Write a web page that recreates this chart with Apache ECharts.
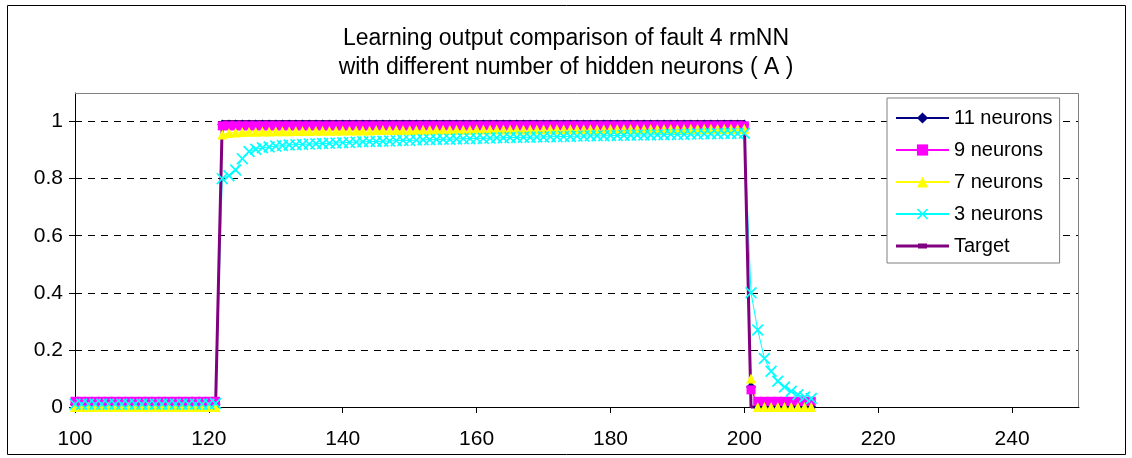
<!DOCTYPE html>
<html><head><meta charset="utf-8">
<script src="https://cdn.jsdelivr.net/npm/echarts@6/dist/echarts.min.js"></script>
<style>html,body{margin:0;padding:0;background:#fff}#c{width:1132px;height:458px}</style>
</head><body><div id="c"></div><script>
const titleText = 'Learning output comparison of fault 4 rmNN\nwith different number of hidden neurons ( A )';
const seriesNames = ['11 neurons', '9 neurons', '7 neurons', '3 neurons', 'Target'];

const xValues = [
 100,101,102,103,104,105,106,107,108,109,
 110,111,112,113,114,115,116,117,118,119,
 120,121,122,123,124,125,126,127,128,129,
 130,131,132,133,134,135,136,137,138,139,
 140,141,142,143,144,145,146,147,148,149,
 150,151,152,153,154,155,156,157,158,159,
 160,161,162,163,164,165,166,167,168,169,
 170,171,172,173,174,175,176,177,178,179,
 180,181,182,183,184,185,186,187,188,189,
 190,191,192,193,194,195,196,197,198,199,
 200,201,202,203,204,205,206,207,208,209,
 210
];

const neurons11 = [
 0.01,0.01,0.01,0.01,0.01,0.01,0.01,0.01,0.01,0.01,
 0.01,0.01,0.01,0.01,0.01,0.01,0.01,0.01,0.01,0.01,
 0.01,0.01,0.99,0.99,0.99,0.99,0.99,0.99,0.99,0.99,
 0.99,0.99,0.99,0.99,0.99,0.99,0.99,0.99,0.99,0.99,
 0.99,0.99,0.99,0.99,0.99,0.99,0.99,0.99,0.99,0.99,
 0.99,0.99,0.99,0.99,0.99,0.99,0.99,0.99,0.99,0.99,
 0.99,0.99,0.99,0.99,0.99,0.99,0.99,0.99,0.99,0.99,
 0.99,0.99,0.99,0.99,0.99,0.99,0.99,0.99,0.99,0.99,
 0.99,0.99,0.99,0.99,0.99,0.99,0.99,0.99,0.99,0.99,
 0.99,0.99,0.99,0.99,0.99,0.99,0.99,0.99,0.99,0.99,
 0.99,0.07,0.0,0.0,0.0,0.0,0.0,0.0,0.0,0.0,
 0.0
];

const neurons9 = [
 0.02,0.02,0.02,0.02,0.02,0.02,0.02,0.02,0.02,0.02,
 0.02,0.02,0.02,0.02,0.02,0.02,0.02,0.02,0.02,0.02,
 0.02,0.02,0.985,0.985,0.985,0.985,0.985,0.985,0.985,0.985,
 0.985,0.985,0.985,0.985,0.985,0.985,0.985,0.985,0.985,0.985,
 0.985,0.985,0.985,0.985,0.985,0.985,0.985,0.985,0.985,0.985,
 0.985,0.985,0.985,0.985,0.985,0.985,0.985,0.985,0.985,0.985,
 0.985,0.985,0.985,0.985,0.985,0.985,0.985,0.985,0.985,0.985,
 0.985,0.985,0.985,0.985,0.985,0.985,0.985,0.985,0.985,0.985,
 0.985,0.985,0.985,0.985,0.985,0.985,0.985,0.985,0.985,0.985,
 0.985,0.985,0.985,0.985,0.985,0.985,0.985,0.985,0.985,0.985,
 0.985,0.06,0.02,0.02,0.02,0.02,0.02,0.02,0.02,0.02,
 0.02
];

const neurons7 = [
 0.0,0.0,0.0,0.0,0.0,0.0,0.0,0.0,0.0,0.0,
 0.0,0.0,0.0,0.0,0.0,0.0,0.0,0.0,0.0,0.0,
 0.0,0.0,0.955,0.96,0.962,0.963,0.964,0.964,0.965,0.965,
 0.966,0.966,0.966,0.967,0.967,0.967,0.968,0.968,0.968,0.968,
 0.969,0.969,0.969,0.969,0.969,0.97,0.97,0.97,0.97,0.97,
 0.97,0.97,0.971,0.971,0.971,0.971,0.971,0.971,0.971,0.971,
 0.972,0.972,0.972,0.972,0.972,0.972,0.972,0.972,0.972,0.972,
 0.973,0.973,0.973,0.973,0.973,0.973,0.973,0.973,0.973,0.973,
 0.974,0.974,0.974,0.974,0.974,0.974,0.974,0.974,0.974,0.974,
 0.974,0.974,0.975,0.975,0.975,0.975,0.975,0.975,0.975,0.975,
 0.975,0.10,0.0,0.0,0.0,0.0,0.0,0.0,0.0,0.0,
 0.0
];

const neurons3 = [
 0.01,0.01,0.01,0.01,0.01,0.01,0.01,0.01,0.01,0.01,
 0.01,0.01,0.01,0.01,0.01,0.01,0.01,0.01,0.01,0.01,
 0.01,0.012,0.80,0.81,0.83,0.87,0.895,0.903,0.908,0.911,
 0.914,0.916,0.918,0.919,0.92,0.921,0.922,0.923,0.924,0.925,
 0.926,0.927,0.928,0.929,0.93,0.93,0.931,0.932,0.933,0.934,
 0.934,0.935,0.936,0.936,0.937,0.938,0.938,0.939,0.94,0.94,
 0.941,0.941,0.942,0.943,0.943,0.944,0.944,0.945,0.945,0.946,
 0.946,0.947,0.947,0.948,0.948,0.949,0.949,0.95,0.95,0.95,
 0.951,0.951,0.952,0.952,0.953,0.953,0.953,0.954,0.954,0.955,
 0.955,0.955,0.956,0.956,0.957,0.957,0.957,0.958,0.958,0.958,
 0.959,0.40,0.27,0.17,0.125,0.09,0.07,0.055,0.043,0.035,
 0.03
];

const targetValues = [
 0,0,0,0,0,0,0,0,0,0,
 0,0,0,0,0,0,0,0,0,0,
 0,0,1,1,1,1,1,1,1,1,
 1,1,1,1,1,1,1,1,1,1,
 1,1,1,1,1,1,1,1,1,1,
 1,1,1,1,1,1,1,1,1,1,
 1,1,1,1,1,1,1,1,1,1,
 1,1,1,1,1,1,1,1,1,1,
 1,1,1,1,1,1,1,1,1,1,
 1,1,1,1,1,1,1,1,1,1,
 1,0,0,0,0,0,0,0,0,0,
 0
];

const xTickMin = 100, xTickMax = 250, xTickStep = 20;
const yTickMin = 0, yTickMax = 1.1, yTickStep = 0.2;

const FONT = '"Liberation Sans", Arial, sans-serif';
const X_SYMBOL = 'path://M0,1L1,0L5,4L9,0L10,1L6,5L10,9L9,10L5,6L1,10L0,9L4,5Z';
const TARGET_ICON = 'path://M0,1L22,1L22,0L31,0L31,1L53,1L53,4L31,4L31,5L22,5L22,4L0,4Z';

function pairs(arr) { return xValues.map((x, i) => [x, arr[i]]); }

const G = { left: 75, top: 93, right: 1079, bottom: 407 };

const chart = echarts.init(document.getElementById('c'), null, { renderer: 'canvas' });

function lineSeries(name, arr, color, symbol, size, width) {
  return {
    name: name, type: 'line', data: pairs(arr),
    symbol: symbol, symbolSize: size, showSymbol: symbol !== 'none',
    lineStyle: { color: color, width: width },
    itemStyle: { color: color, borderWidth: 0 },
    emphasis: { disabled: true }, silent: true, animation: false, clip: false
  };
}

chart.setOption({
  animation: false,
  backgroundColor: '#fff',
  title: {
    text: titleText, left: 'center', top: 24, padding: [0, 0, 0, 12],
    textStyle: { fontFamily: FONT, fontSize: 23, fontWeight: 'normal', color: '#000', lineHeight: 29 }
  },
  grid: { left: G.left, top: G.top, width: G.right - G.left, height: G.bottom - G.top, containLabel: false },
  legend: {
    orient: 'vertical', left: 887, top: 98,
    padding: [10, 7, 7, 8], itemWidth: 53, itemHeight: 14, itemGap: 12,
    borderColor: '#808080', borderWidth: 1, backgroundColor: '#fff',
    selectedMode: false,
    textStyle: { fontFamily: FONT, fontSize: 20, color: '#000' },
    data: [
      { name: seriesNames[0] }, { name: seriesNames[1] }, { name: seriesNames[2] }, { name: seriesNames[3] },
      { name: seriesNames[4], icon: TARGET_ICON }
    ]
  },
  xAxis: {
    type: 'value', min: xTickMin, max: xTickMax, interval: xTickStep,
    axisLine: { show: true, lineStyle: { color: '#000', width: 1 } },
    axisTick: { show: true, length: 6, lineStyle: { color: '#000' } },
    axisLabel: { fontFamily: FONT, fontSize: 21, color: '#000', margin: 22, showMaxLabel: false },
    splitLine: { show: false }
  },
  yAxis: {
    type: 'value', min: yTickMin, max: yTickMax, interval: yTickStep,
    axisLine: { show: true, lineStyle: { color: '#000', width: 1 } },
    axisTick: { show: true, length: 6, lineStyle: { color: '#000' } },
    axisLabel: { fontFamily: FONT, fontSize: 21, color: '#000', margin: 12, showMaxLabel: false },
    splitLine: { show: true, lineStyle: { color: ['#000','#000','#000','#000','#000','#000','rgba(0,0,0,0)'], type: [7, 6], width: 1 } }
  },
  graphic: [
    { type: 'polyline', z: 100, silent: true,
      shape: { points: [[G.left, G.top + 0.5], [G.right - 0.5, G.top + 0.5], [G.right - 0.5, G.bottom]] },
      style: { stroke: '#808080', lineWidth: 1, fill: null } },
    { type: 'rect', z: 100, silent: true,
      shape: { x: 7.5, y: 5.5, width: 1118, height: 449 },
      style: { stroke: '#000', lineWidth: 1, fill: null } }
  ],
  series: [
    lineSeries(seriesNames[0], neurons11, '#000080', 'diamond', 10, 1),
    lineSeries(seriesNames[1], neurons9, '#FF00FF', 'rect', 9, 1),
    lineSeries(seriesNames[2], neurons7, '#FFFF00', 'triangle', 10, 1),
    lineSeries(seriesNames[3], neurons3, '#00FFFF', X_SYMBOL, 12, 1),
    lineSeries(seriesNames[4], targetValues, '#800080', 'none', 0, 3)
  ]
});
</script></body></html>
